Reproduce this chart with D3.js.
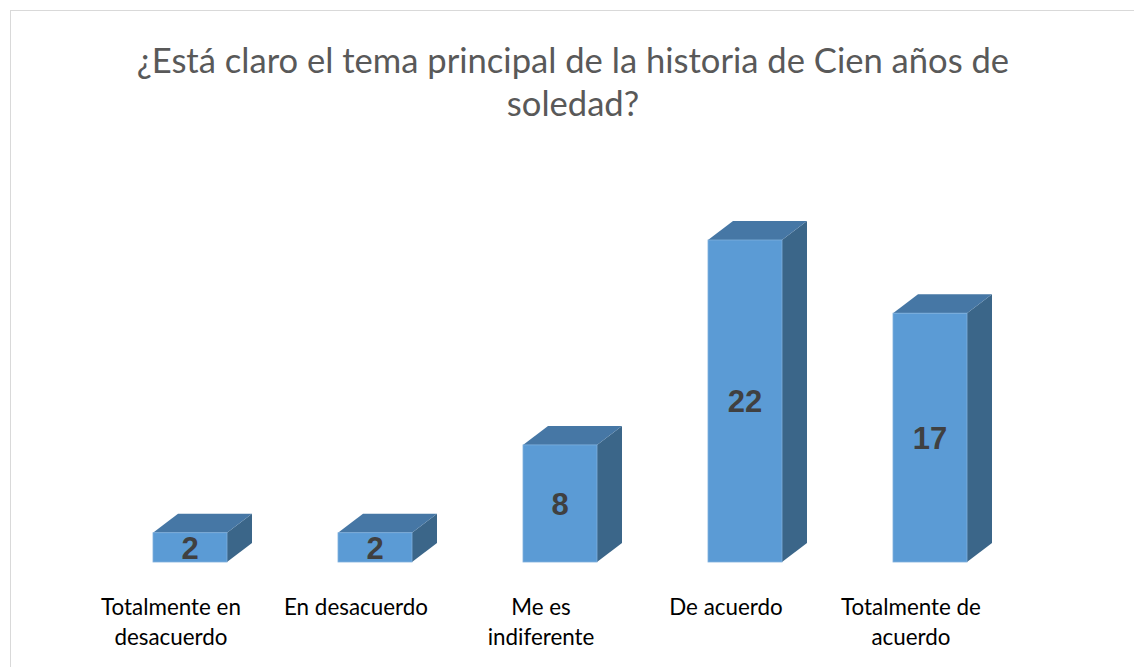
<!DOCTYPE html>
<html><head><meta charset="utf-8">
<script src="https://cdn.jsdelivr.net/npm/d3@7/dist/d3.min.js"></script>
<style>body{margin:0;background:#fff}svg{display:block}</style>
</head><body>
<svg id="c" width="1134" height="667"></svg>
<script>
const categories = [["Totalmente en","desacuerdo"],["En desacuerdo"],["Me es","indiferente"],["De acuerdo"],["Totalmente de","acuerdo"]];
const values = [2, 2, 8, 22, 17];
const titleLines = ["¿Está claro el tema principal de la historia de Cien años de", "soledad?"];

const svg = d3.select("#c");
svg.append("rect").attr("x",10.5).attr("y",10.5).attr("width",1140).attr("height",680)
  .attr("fill","#fff").attr("stroke","#d9d9d9").attr("stroke-width",1);

const title = svg.append("text").attr("text-anchor","middle").attr("fill","#595959")
  .style("font-family","Lato, 'Open Sans', sans-serif").style("font-size","34.6px");
titleLines.forEach((t,i)=>title.append("tspan").attr("x",573).attr("y",73+i*43).text(t));

const x = d3.scaleBand().domain(d3.range(values.length)).range([97.5,1022.5]).paddingInner(0.6).paddingOuter(0.3);
const y = d3.scaleLinear().domain([0,22]).range([562,240]);
const dx = 25, dy = 19;
const bw = 74;

const g = svg.append("g");
values.forEach((v,i)=>{
  const cx = x(i)+x.bandwidth()/2;
  const x0 = cx-bw/2, x1 = cx+bw/2, yt = y(v), yb = y(0);
  g.append("path").attr("d",`M${x1},${yt}L${x1+dx},${yt-dy}L${x1+dx},${yb-dy}L${x1},${yb}Z`).attr("fill","#3b6689");
  g.append("path").attr("d",`M${x0},${yt}L${x0+dx},${yt-dy}L${x1+dx},${yt-dy}L${x1},${yt}Z`).attr("fill","#4677a5");
  g.append("rect").attr("x",x0).attr("y",yt).attr("width",bw).attr("height",yb-yt).attr("fill","#5b9bd5")
    .attr("stroke","#7fb0dd").attr("stroke-width",0.8);
  g.append("text").attr("x",cx).attr("y",(yt+yb)/2).attr("dy","0.36em").attr("text-anchor","middle")
    .attr("fill","#404040").style("font-family","'Liberation Sans', Arial, sans-serif")
    .style("font-weight","bold").style("font-size","31px").text(v);
  const lab = svg.append("text").attr("text-anchor","middle").attr("fill","#000")
    .style("font-family","Lato, 'Open Sans', sans-serif").style("font-size","22.4px");
  categories[i].forEach((t,j)=>lab.append("tspan").attr("x",cx-19).attr("y",615+j*30).text(t));
});
</script>
</body></html>
